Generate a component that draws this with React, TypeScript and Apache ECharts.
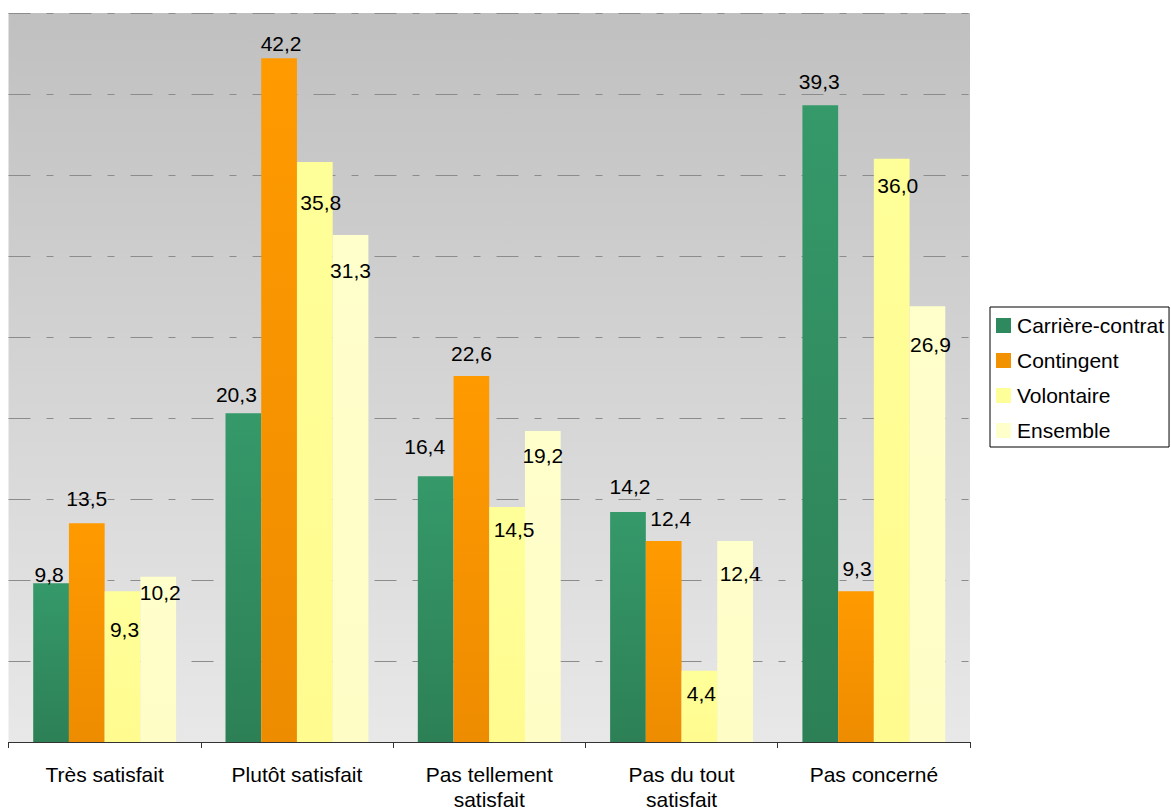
import React, { useEffect, useRef } from "react";
import * as echarts from "echarts";

const categories = [
  "Très satisfait",
  "Plutôt satisfait",
  "Pas tellement\nsatisfait",
  "Pas du tout\nsatisfait",
  "Pas concerné",
];
const seriesNames = ["Carrière-contrat", "Contingent", "Volontaire", "Ensemble"];
const carriereContrat = [9.8, 20.3, 16.4, 14.2, 39.3];
const contingent = [13.5, 42.2, 22.6, 12.4, 9.3];
const volontaire = [9.3, 35.8, 14.5, 4.4, 36.0];
const ensemble = [10.2, 31.3, 19.2, 12.4, 26.9];

// label nudges (px): vertical offset of label centre from bar top, horizontal shift
const labelDy = [
  [-9, -19, -30, -25, -24],
  [-25, -15, -22, -23, -23],
  [38, 40, 22, 23, 27],
  [16, 36, 25, 32, 38],
];
const labelDx = [
  [-2, -7, -11, 2, -1],
  [0, 2, 0, 7, 1],
  [2, 6, 7, 2, 6],
  [2, 0, 0, 5, 3],
];

const FONT = "'Liberation Sans', Arial, Helvetica, sans-serif";

const grad = (top: string, bottom: string) =>
  new echarts.graphic.LinearGradient(0, 0, 0, 1, [
    { offset: 0, color: top },
    { offset: 1, color: bottom },
  ]);

export default function App() {
  const ref = useRef<HTMLDivElement>(null);
  useEffect(() => {
    document.body.style.margin = "0";
    if (!ref.current) return;
    const chart = echarts.init(ref.current, undefined, { renderer: "svg" });
    const values = [carriereContrat, contingent, volontaire, ensemble];
    const colors = [
      grad("#35996a", "#2d8056"),
      grad("#ff9a00", "#ee8c00"),
      grad("#ffff99", "#fffb8f"),
      grad("#ffffcc", "#fffdc6"),
    ];
    const legendColors = ["#2e8a5e", "#f39200", "#ffff99", "#ffffcc"];
    const series = values.map((vals, si) => ({
      name: seriesNames[si],
      type: "bar",
      barGap: "0%",
      barCategoryGap: "25.7%",
      itemStyle: { color: colors[si] },
      label: {
        show: true,
        position: "top",
        distance: 0,
        fontSize: 21,
        lineHeight: 21,
        fontFamily: FONT,
        color: "#000",
        formatter: (p: any) => Number(p.value).toFixed(1).replace(".", ","),
      },
      data: vals.map((v, i) => ({
        value: v,
        label: { offset: [labelDx[si][i], labelDy[si][i] + 10.5] },
      })),
    }));
    chart.setOption({
      animation: false,
      textStyle: { fontFamily: FONT },
      grid: {
        left: 8.5,
        right: 201,
        top: 13,
        bottom: 70,
        show: true,
        borderWidth: 0,
        backgroundColor: new echarts.graphic.LinearGradient(0, 0, 0, 1, [
          { offset: 0, color: "#c0c0c0" },
          { offset: 1, color: "#e8e8e8" },
        ]),
      },
      legend: {
        orient: "vertical",
        left: 990,
        top: 307,
        padding: [8, 5, 6, 6],
        itemWidth: 15,
        itemHeight: 15,
        itemGap: 14,
        icon: "rect",
        borderColor: "#000",
        borderWidth: 1,
        backgroundColor: "#fff",
        textStyle: { fontSize: 21, lineHeight: 21, color: "#000", fontFamily: FONT, padding: [0, 0, 0, 1] },
        data: seriesNames.map((n, i) => ({ name: n, itemStyle: { color: legendColors[i] } })),
      },
      xAxis: {
        type: "category",
        data: categories,
        axisLine: { show: true, lineStyle: { color: "#333", width: 1 } },
        axisTick: { show: true, length: 6, lineStyle: { color: "#333" } },
        axisLabel: {
          margin: 20,
          fontSize: 21,
          lineHeight: 25,
          color: "#000",
          fontFamily: FONT,
          interval: 0,
        },
      },
      yAxis: {
        type: "value",
        min: 0,
        max: 45,
        interval: 5,
        axisLine: { show: false },
        axisTick: { show: false },
        axisLabel: { show: false },
        splitLine: {
          show: true,
          lineStyle: { color: "#8c8c8c", width: 1, type: [22, 16, 7, 16] },
        },
      },
      series,
    });
    return () => chart.dispose();
  }, []);
  return <div ref={ref} style={{ width: 1171, height: 812 }} />;
}
